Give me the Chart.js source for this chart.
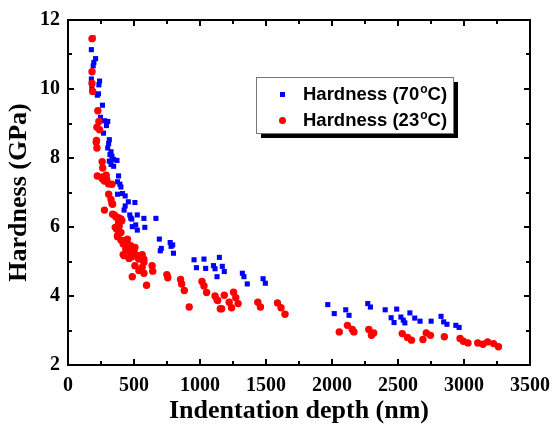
<!DOCTYPE html>
<html>
<head>
<meta charset="utf-8">
<script src="https://cdn.jsdelivr.net/npm/chart.js@4/dist/chart.umd.min.js"></script>
<style>
  body { margin: 0; background: #fff; }
  #wrap { width: 559px; height: 431px; }
</style>
</head>
<body>
<div id="wrap"><canvas id="hardChart" width="559" height="431"></canvas></div>
<script>
// Hardness (70 C) - blue squares
const depth70 = [189,177,209,196,191,177,239,234,181,222,231,261,246,276,301,291,269,313,308,301,326,333,346,318,326,346,371,313,383,375,393,401,413,433,375,457,433,507,425,468,525,483,575,666,487,525,582,513,475,692,774,781,707,699,799,793,955,1030,1147,973,1043,1102,1114,1169,1184,1129,1321,1333,1358,1478,1495,1968,2017,2104,2129,2271,2291,2403,2490,2448,2470,2522,2540,2552,2590,2627,2667,2751,2826,2846,2871,2938,2963];
const hard70 = [11.48,11.14,10.88,10.77,10.67,10.29,10.23,10.12,10.02,9.82,9.86,9.53,9.18,9.08,9.06,8.94,8.72,8.53,8.42,8.29,8.18,8.05,7.96,8.1,7.81,7.76,7.93,7.91,7.48,7.31,7.24,7.16,6.97,6.9,6.95,6.73,6.61,6.71,6.49,6.35,6.35,6.23,6.25,6.25,6.01,5.91,5.99,6.06,6.26,5.65,5.55,5.44,5.38,5.31,5.24,5.48,5.05,5.07,5.12,4.82,4.8,4.88,4.79,4.86,4.71,4.56,4.66,4.56,4.35,4.5,4.37,3.75,3.49,3.6,3.44,3.78,3.68,3.6,3.62,3.37,3.23,3.39,3.3,3.22,3.51,3.36,3.27,3.27,3.41,3.25,3.18,3.15,3.09];

// Hardness (23 C) - red circles
const depth23 = [182,182,182,187,226,234,219,239,216,219,214,259,263,222,259,276,263,289,308,333,293,308,326,333,276,338,338,363,401,383,358,351,383,408,388,368,401,375,388,375,401,450,418,475,438,500,425,450,475,507,468,418,487,525,562,463,532,425,483,537,575,575,562,537,575,507,487,637,642,595,749,756,853,861,881,918,1015,1030,1050,1114,1129,1154,1184,1254,1271,1289,1221,1239,1164,1134,1438,1458,1587,1614,1644,2055,2117,2154,2166,2279,2299,2316,2532,2572,2602,2689,2714,2746,2851,2970,2995,3030,3104,3144,3179,3224,3261];
const hard23 = [11.46,10.5,10.16,9.93,9.37,9.06,8.89,8.82,8.51,8.29,8.46,7.89,7.71,7.48,7.4,7.33,7.45,7.5,7.25,7.24,7.38,6.95,6.8,6.68,6.49,6.66,6.37,6.29,6.23,6.13,5.99,6.35,6.27,6.18,6.03,5.94,5.84,5.72,5.84,5.75,5.62,5.65,5.51,5.43,5.36,5.31,5.6,5.52,5.46,5.41,5.29,5.2,5.22,5.17,5.2,5.09,5.1,5.17,5.14,5.07,5.07,4.98,4.83,4.74,4.66,4.88,4.56,4.88,4.72,4.31,4.62,4.53,4.48,4.35,4.16,3.68,4.42,4.29,4.1,4.0,3.89,3.63,4.02,4.11,3.95,3.78,3.82,3.66,3.63,3.87,3.82,3.68,3.8,3.66,3.47,2.96,3.15,3.03,2.96,3.03,2.86,2.93,2.91,2.8,2.72,2.74,2.93,2.86,2.82,2.77,2.69,2.64,2.64,2.6,2.67,2.62,2.53];

const seriesNames = ['Hardness (70', 'Hardness (23'];

function toPoints(xs, ys) {
    return xs.map((x, i) => ({ x: x, y: ys[i] }));
}

// box frame with inward major/minor ticks on all four sides
const frameTicks = {
    id: 'frameTicks',
    afterDatasetsDraw(chart) {
        const { ctx, chartArea: a, scales } = chart;
        ctx.save();
        ctx.strokeStyle = '#000';
        ctx.lineWidth = 2;
        ctx.strokeRect(a.left, a.top, a.right - a.left, a.bottom - a.top);
        ctx.beginPath();
        for (let v = 0; v <= 3500; v += 250) {
            const px = Math.round(scales.x.getPixelForValue(v));
            const len = v % 500 === 0 ? 6 : 4;
            ctx.moveTo(px, a.bottom); ctx.lineTo(px, a.bottom - len);
            ctx.moveTo(px, a.top); ctx.lineTo(px, a.top + len);
        }
        for (let v = 2; v <= 12; v += 1) {
            const py = Math.round(scales.y.getPixelForValue(v));
            const len = v % 2 === 0 ? 6 : 4;
            ctx.moveTo(a.left, py); ctx.lineTo(a.left + len, py);
            ctx.moveTo(a.right, py); ctx.lineTo(a.right - len, py);
        }
        ctx.stroke();
        ctx.restore();
    }
};

// legend box with drop shadow
const boxLegend = {
    id: 'boxLegend',
    afterDraw(chart) {
        const ctx = chart.ctx;
        const bx = 256, by = 77, bw = 197, bh = 56;
        ctx.save();
        ctx.fillStyle = '#000';
        ctx.fillRect(bx + 5, by + 5, bw, bh);
        ctx.fillStyle = '#fff';
        ctx.fillRect(bx, by, bw, bh);
        ctx.strokeStyle = '#777';
        ctx.lineWidth = 1;
        ctx.strokeRect(bx + 0.5, by + 0.5, bw, bh);

        const rows = [
            { y: 100, label: seriesNames[0], color: '#0000ff', rect: true },
            { y: 126, label: seriesNames[1], color: '#ff0000', rect: false }
        ];
        rows.forEach(r => {
            ctx.fillStyle = r.color;
            if (r.rect) {
                ctx.fillRect(280, r.y - 8, 5, 5);
            } else {
                ctx.beginPath();
                ctx.arc(282.5, r.y - 5.5, 3.5, 0, Math.PI * 2);
                ctx.fill();
            }
            ctx.fillStyle = '#000';
            ctx.textBaseline = 'alphabetic';
            ctx.font = 'bold 18.5px "Liberation Sans", Arial, sans-serif';
            let x = 303;
            ctx.fillText(r.label, x, r.y);
            x += ctx.measureText(r.label).width + 1;
            ctx.font = 'bold 12px "Liberation Sans", Arial, sans-serif';
            ctx.fillText('o', x, r.y - 7);
            x += ctx.measureText('o').width;
            ctx.font = 'bold 18.5px "Liberation Sans", Arial, sans-serif';
            ctx.fillText('C)', x, r.y);
        });
        ctx.restore();
    }
};

const tickFont = { family: '"Liberation Serif", "Times New Roman", serif', size: 20, weight: 'bold' };
const titleFont = { family: '"Liberation Serif", "Times New Roman", serif', size: 26, weight: 'bold' };

new Chart(document.getElementById('hardChart'), {
    type: 'scatter',
    data: {
        datasets: [
            {
                label: 'Hardness (23°C)',
                data: toPoints(depth23, hard23),
                pointStyle: 'circle',
                pointRadius: 3.7,
                pointBorderWidth: 0,
                backgroundColor: '#ff0000',
                borderColor: '#ff0000'
            },
            {
                label: 'Hardness (70°C)',
                data: toPoints(depth70, hard70),
                pointStyle: 'rect',
                pointRadius: 3.6,
                pointBorderWidth: 0,
                backgroundColor: '#0000ff',
                borderColor: '#0000ff'
            }
        ]
    },
    options: {
        responsive: false,
        animation: false,
        devicePixelRatio: 1,
        layout: { padding: { top: 18, right: 22, left: 0, bottom: 0 } },
        plugins: {
            legend: { display: false },
            tooltip: { enabled: false }
        },
        scales: {
            x: {
                type: 'linear',
                min: 0,
                max: 3500,
                grid: { display: false, drawTicks: false },
                border: { display: false },
                ticks: {
                    stepSize: 500, autoSkip: false, maxRotation: 0, padding: 9,
                    color: '#000', font: tickFont,
                    callback: v => String(v)
                },
                title: { display: true, text: 'Indentation depth (nm)', color: '#000', font: titleFont, padding: { bottom: 4 } },
                afterFit(scale) { scale.height = 66; }
            },
            y: {
                type: 'linear',
                min: 2,
                max: 12,
                grid: { display: false, drawTicks: false },
                border: { display: false },
                ticks: {
                    stepSize: 2, autoSkip: false, padding: 8,
                    color: '#000', font: tickFont,
                    callback: v => String(v)
                },
                title: { display: true, text: 'Hardness (GPa)', color: '#000', font: titleFont, padding: { top: 4 } },
                afterFit(scale) { scale.width = 68; }
            }
        }
    },
    plugins: [frameTicks, boxLegend]
});
</script>
</body>
</html>
